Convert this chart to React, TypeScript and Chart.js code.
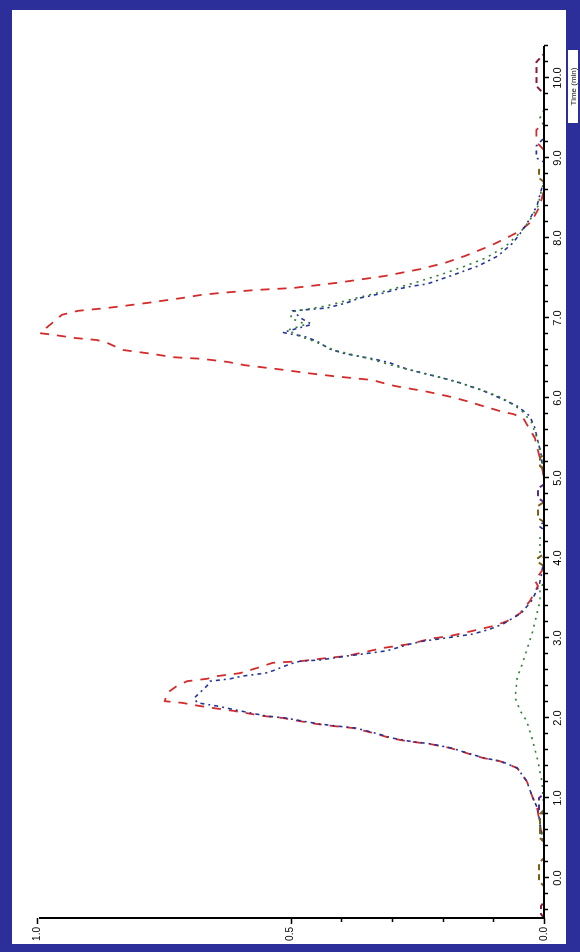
import { useEffect, useRef } from "react";
import { Chart, registerables } from "chart.js";

Chart.register(...registerables);

// Position along the run (tick units) and normalised intensity for each trace
const redX = [-0.5, 0.5, 0.6, 0.9, 1.0, 1.21, 1.375, 1.46, 1.5, 1.56, 1.625, 1.675, 1.71, 1.75, 1.8, 1.875, 1.9, 1.925, 1.96, 2.0, 2.025, 2.09, 2.125, 2.15, 2.19, 2.21, 2.31, 2.4, 2.46, 2.49, 2.525, 2.56, 2.625, 2.69, 2.71, 2.75, 2.775, 2.875, 2.925, 2.99, 3.025, 3.09, 3.15, 3.21, 3.31, 3.46, 3.65, 3.72, 3.84, 4.0, 5.0, 5.25, 5.5, 5.75, 5.8, 5.825, 5.875, 5.91, 5.95, 6.01, 6.05, 6.09, 6.11, 6.15, 6.175, 6.225, 6.25, 6.275, 6.31, 6.35, 6.375, 6.41, 6.45, 6.49, 6.51, 6.55, 6.6, 6.69, 6.725, 6.75, 6.79, 6.81, 7.04, 7.09, 7.125, 7.15, 7.19, 7.225, 7.25, 7.29, 7.31, 7.35, 7.375, 7.41, 7.44, 7.525, 7.61, 7.69, 7.775, 7.9, 7.99, 8.09, 8.21, 8.4, 8.6, 9.1, 9.2, 9.35, 9.45, 10.4];
const redY = [0, 0, 0.006, 0.014, 0.022, 0.034, 0.053, 0.087, 0.12, 0.152, 0.185, 0.225, 0.27, 0.304, 0.329, 0.377, 0.416, 0.448, 0.481, 0.515, 0.554, 0.613, 0.653, 0.679, 0.714, 0.748, 0.744, 0.724, 0.704, 0.665, 0.643, 0.6, 0.566, 0.535, 0.481, 0.428, 0.389, 0.318, 0.264, 0.225, 0.185, 0.14, 0.1, 0.073, 0.047, 0.028, 0.012, 0.018, 0.004, 0, 0, 0.008, 0.018, 0.041, 0.061, 0.081, 0.107, 0.126, 0.146, 0.181, 0.209, 0.239, 0.258, 0.294, 0.31, 0.339, 0.379, 0.418, 0.465, 0.511, 0.544, 0.59, 0.623, 0.675, 0.732, 0.771, 0.83, 0.862, 0.882, 0.925, 0.968, 0.994, 0.951, 0.919, 0.862, 0.83, 0.781, 0.742, 0.714, 0.675, 0.643, 0.57, 0.495, 0.448, 0.408, 0.314, 0.245, 0.195, 0.156, 0.107, 0.077, 0.047, 0.024, 0.008, 0, 0, 0.015, 0.015, 0, 0];

const blueX = [-0.5, 0.4, 0.5, 0.85, 0.95, 1.0, 1.21, 1.375, 1.46, 1.5, 1.56, 1.625, 1.675, 1.71, 1.75, 1.8, 1.875, 1.9, 1.925, 1.96, 2.0, 2.025, 2.09, 2.15, 2.19, 2.25, 2.31, 2.4, 2.46, 2.49, 2.525, 2.56, 2.59, 2.675, 2.71, 2.725, 2.775, 2.8, 2.84, 2.925, 2.96, 2.99, 3.025, 3.05, 3.11, 3.175, 3.31, 3.46, 3.65, 3.85, 4.0, 4.35, 4.4, 4.45, 5.0, 5.3, 5.46, 5.625, 5.775, 5.9, 6.0, 6.09, 6.19, 6.25, 6.31, 6.36, 6.44, 6.49, 6.525, 6.56, 6.61, 6.71, 6.775, 6.8, 6.82, 6.92, 7.0, 7.06, 7.09, 7.125, 7.19, 7.25, 7.31, 7.36, 7.4, 7.425, 7.525, 7.65, 7.775, 7.94, 8.09, 8.24, 8.4, 8.59, 8.7, 8.95, 9.0, 9.15, 9.25, 10.4];
const blueY = [0, 0, 0.004, 0.012, 0.018, 0.022, 0.034, 0.053, 0.085, 0.118, 0.15, 0.183, 0.222, 0.265, 0.3, 0.326, 0.372, 0.41, 0.442, 0.475, 0.51, 0.548, 0.6, 0.645, 0.684, 0.69, 0.68, 0.665, 0.659, 0.619, 0.594, 0.55, 0.535, 0.501, 0.481, 0.442, 0.389, 0.357, 0.31, 0.264, 0.239, 0.205, 0.166, 0.14, 0.107, 0.081, 0.045, 0.025, 0.01, 0.003, 0, 0, 0.01, 0, 0, 0.006, 0.012, 0.018, 0.028, 0.053, 0.087, 0.12, 0.166, 0.2, 0.239, 0.27, 0.304, 0.337, 0.369, 0.396, 0.422, 0.448, 0.475, 0.501, 0.515, 0.458, 0.48, 0.49, 0.495, 0.428, 0.389, 0.363, 0.318, 0.29, 0.258, 0.231, 0.185, 0.13, 0.091, 0.061, 0.043, 0.028, 0.014, 0.006, 0, 0, 0.015, 0.015, 0, 0];

const greenX = [-0.5, 0.5, 0.6, 0.75, 0.85, 1.2, 1.46, 1.71, 1.96, 2.09, 2.25, 2.5, 2.71, 3.09, 3.46, 3.6, 3.7, 4.0, 4.05, 4.25, 4.3, 5.0, 5.3, 5.5, 5.7, 5.85, 6.0, 6.1, 6.2, 6.3, 6.4, 6.5, 6.6, 6.7, 6.78, 6.85, 6.92, 7.0, 7.08, 7.15, 7.25, 7.35, 7.45, 7.55, 7.65, 7.75, 7.9, 8.05, 8.2, 8.4, 8.6, 8.7, 9.4, 9.5, 9.6, 10.4];
const greenY = [0, 0, 0.008, 0.008, 0, 0.004, 0.012, 0.022, 0.034, 0.047, 0.057, 0.053, 0.041, 0.022, 0.008, 0.008, 0, 0, 0.008, 0.008, 0, 0, 0.005, 0.014, 0.025, 0.045, 0.082, 0.122, 0.17, 0.23, 0.295, 0.35, 0.415, 0.45, 0.485, 0.505, 0.47, 0.5, 0.495, 0.43, 0.37, 0.305, 0.25, 0.2, 0.155, 0.115, 0.075, 0.05, 0.03, 0.012, 0.005, 0, 0, 0.008, 0, 0];

const oliveX = [-0.5, -0.1, -0.04, 0.19, 0.25, 0.45, 0.5, 0.8, 0.85, 3.9, 3.95, 4.0, 4.05, 4.45, 4.5, 4.65, 4.7, 5.1, 5.15, 5.25, 5.3, 8.7, 8.75, 8.85, 8.9, 10.4];
const oliveY = [0, 0, 0.01, 0.01, 0, 0, 0.008, 0.008, 0, 0, 0.012, 0.012, 0, 0, 0.012, 0.012, 0, 0, 0.008, 0.008, 0, 0, 0.01, 0.01, 0, 0];

const purpleX = [-0.5, 0.8, 0.85, 1.0, 1.05, 4.7, 4.75, 4.87, 4.92, 10.4];
const purpleY = [0, 0, 0.01, 0.01, 0, 0, 0.012, 0.012, 0, 0];

const maroonX = [-0.5, -0.45, -0.35, -0.3, 9.8, 9.9, 10.2, 10.3, 10.4];
const maroonY = [0, 0.006, 0.006, 0, 0, 0.015, 0.015, 0, 0];

// Axis labelling
const xTickLabels = ["0.0", "1.0", "2.0", "3.0", "4.0", "5.0", "6.0", "7.0", "8.0", "9.0", "10.0"];
const yTickValues = [0, 0.5, 1];
const yTickLabels = ["0.0", "0.5", "1.0"];
const yMinorTicks = [0.1, 0.2, 0.3, 0.4];
const axisTitle = "Time (min)";

const FRAME = "#2c2e9a";
const W = 952;
const H = 580;

function pts(xs: number[], ys: number[]) {
  return xs.map((x, i) => ({ x, y: ys[i] }));
}

const framePlugin = {
  id: "frame",
  beforeDraw(chart: any) {
    const ctx = chart.ctx;
    ctx.save();
    ctx.fillStyle = FRAME;
    ctx.fillRect(0, 0, W, H);
    ctx.fillStyle = "#ffffff";
    ctx.fillRect(8, 12, 934, 554);
    ctx.restore();
  },
  afterDatasetsDraw(chart: any) {
    const { ctx, chartArea, scales } = chart;
    const { left, right, top, bottom } = chartArea;
    const xs = scales.x;
    const ys = scales.y;
    ctx.save();
    ctx.strokeStyle = "#000";
    ctx.lineWidth = 2;
    ctx.beginPath();
    ctx.moveTo(left - 1, bottom);
    ctx.lineTo(right, bottom);
    ctx.moveTo(left, top + 2);
    ctx.lineTo(left, bottom + 1);
    ctx.stroke();

    ctx.lineWidth = 1.5;
    ctx.beginPath();
    // minor ticks along the run axis, five per labelled step
    for (let i = -2; i <= 52; i++) {
      const v = i / 5;
      if (v < xs.min || v > xs.max) continue;
      const px = Math.round(xs.getPixelForValue(v)) + 0.5;
      const len = i % 5 === 0 ? 5 : 4;
      ctx.moveTo(px, bottom);
      ctx.lineTo(px, bottom + len);
    }
    yMinorTicks.forEach((v) => {
      const py = Math.round(ys.getPixelForValue(v)) + 0.5;
      ctx.moveTo(left, py);
      ctx.lineTo(left - 4, py);
    });
    yTickValues.forEach((v) => {
      const py = Math.round(ys.getPixelForValue(v)) + 0.5;
      ctx.moveTo(left, py);
      ctx.lineTo(left - 6, py);
    });
    ctx.stroke();
    ctx.restore();
  },
  afterDraw(chart: any) {
    const ctx = chart.ctx;
    ctx.save();
    ctx.fillStyle = "#ffffff";
    ctx.fillRect(829, 568, 73, 10);
    ctx.fillStyle = "#111";
    ctx.font = "8px 'Liberation Sans', Arial, sans-serif";
    ctx.textAlign = "center";
    ctx.textBaseline = "middle";
    ctx.fillText(axisTitle, 865.5, 573.5);
    ctx.restore();
  },
};

export default function App() {
  const canvasRef = useRef<HTMLCanvasElement | null>(null);

  useEffect(() => {
    const canvas = canvasRef.current;
    if (!canvas) return;
    const chart = new Chart(canvas, {
      type: "line",
      data: {
        datasets: [
          { label: "Olive", data: pts(oliveX, oliveY), borderColor: "#7a6014", borderWidth: 2, borderDash: [6, 4] },
          { label: "Purple", data: pts(purpleX, purpleY), borderColor: "#5e2a8c", borderWidth: 2, borderDash: [6, 4] },
          { label: "Maroon", data: pts(maroonX, maroonY), borderColor: "#8a1840", borderWidth: 2, borderDash: [6, 4] },
          { label: "Green", data: pts(greenX, greenY), borderColor: "#2e7d32", borderWidth: 1.6, borderDash: [2, 5] },
          { label: "Blue", data: pts(blueX, blueY), borderColor: "#23349a", borderWidth: 1.6, borderDash: [4, 4, 2, 4] },
          { label: "Red", data: pts(redX, redY), borderColor: "#d42a2a", borderWidth: 1.8, borderDash: [9, 8] },
        ].map((d) => ({ ...d, pointRadius: 0, tension: 0, fill: false })),
      },
      options: {
        animation: false,
        responsive: false,
        devicePixelRatio: 1,
        events: [],
        layout: { padding: { left: 0, right: 46, top: 37, bottom: 0 } },
        plugins: { legend: { display: false }, tooltip: { enabled: false }, title: { display: false } },
        scales: {
          x: {
            type: "linear",
            min: -0.5,
            max: 10.4,
            grid: { display: false, drawTicks: false },
            border: { display: false },
            afterBuildTicks: (scale: any) => {
              scale.ticks = xTickLabels.map((_, i) => ({ value: i }));
            },
            afterFit: (scale: any) => {
              scale.height = 36;
            },
            ticks: {
              autoSkip: false,
              maxRotation: 0,
              minRotation: 0,
              padding: 7,
              color: "#000",
              font: { family: "'Liberation Sans', Arial, sans-serif", size: 11 },
              callback: (_v: any, i: number) => xTickLabels[i],
            },
          },
          y: {
            type: "linear",
            min: 0,
            max: 1,
            grid: { display: false, drawTicks: false },
            border: { display: false },
            afterBuildTicks: (scale: any) => {
              scale.ticks = yTickValues.map((value) => ({ value }));
            },
            afterFit: (scale: any) => {
              scale.width = 34;
            },
            ticks: {
              padding: 9,
              color: "#000",
              font: { family: "'Liberation Sans', Arial, sans-serif", size: 10 },
              callback: (_v: any, i: number) => yTickLabels[i],
            },
          },
        },
      },
      plugins: [framePlugin],
    });
    return () => chart.destroy();
  }, []);

  return (
    <div
      style={{
        position: "absolute",
        left: 0,
        top: 0,
        width: 580,
        height: 952,
        overflow: "hidden",
        background: FRAME,
      }}
    >
      <div
        style={{
          position: "absolute",
          left: 0,
          top: 0,
          width: W,
          height: H,
          transformOrigin: "0 0",
          transform: `translate(0px, ${W}px) rotate(-90deg)`,
        }}
      >
        <canvas ref={canvasRef} width={W} height={H} style={{ width: W, height: H, display: "block" }} />
      </div>
    </div>
  );
}
